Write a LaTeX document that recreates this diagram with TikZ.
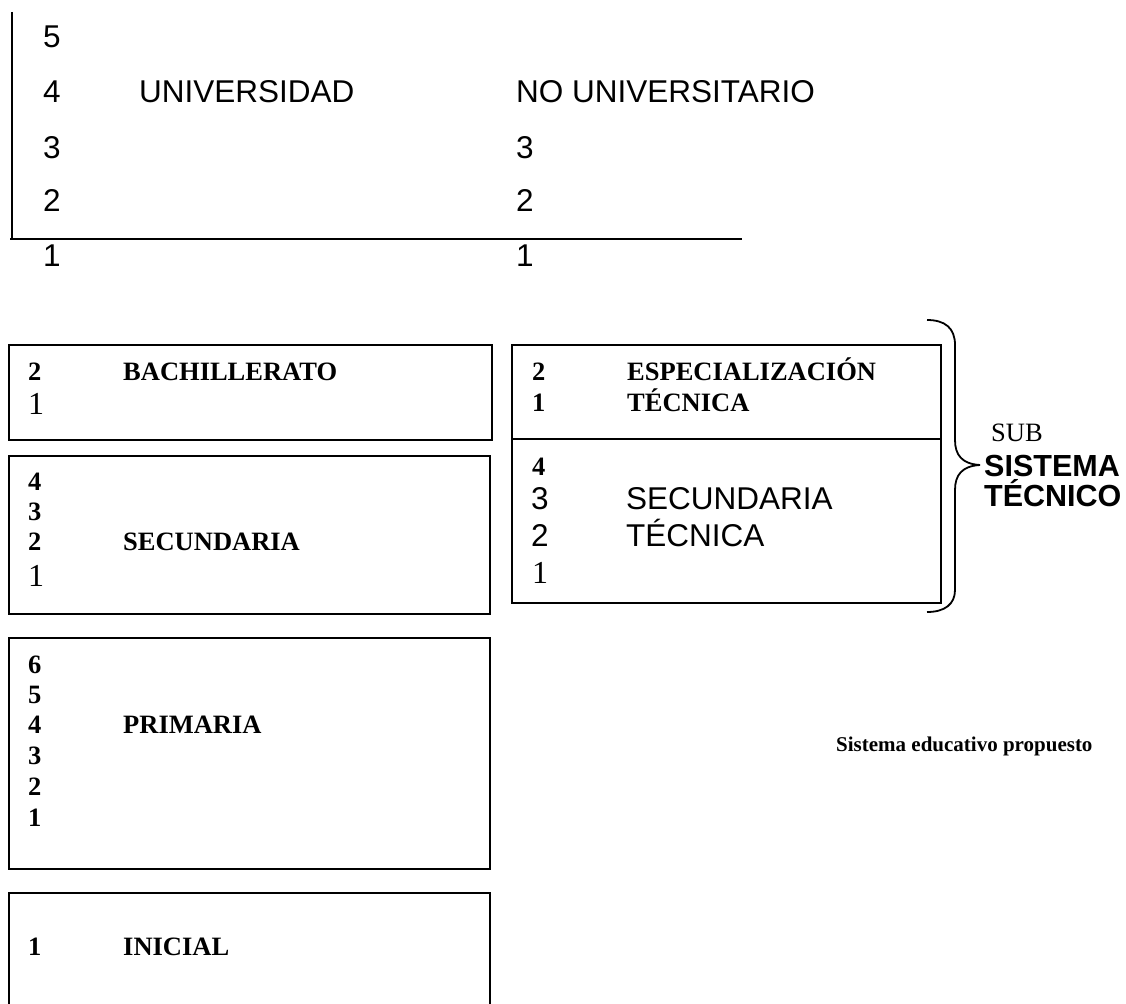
\documentclass[tikz,border=0pt]{standalone}
\usepackage{fontspec}
\setmainfont{Liberation Serif}
\newfontfamily\arialf{Liberation Sans}
\begin{document}
\begin{tikzpicture}[x=1pt,y=-1pt,
  tb/.style={anchor=west, inner sep=0pt, font=\fontsize{26.5}{30}\selectfont\bfseries, text height=17.9pt, text depth=0pt},
  tr/.style={anchor=west, inner sep=0pt, font=\fontsize{32}{36}\selectfont, text height=21.6pt, text depth=0pt},
  trs/.style={anchor=west, inner sep=0pt, font=\fontsize{26.5}{30}\selectfont, text height=17.9pt, text depth=0pt},
  ar/.style={anchor=west, inner sep=0pt, font=\arialf\fontsize{31.5}{35}\selectfont, text height=22.5pt, text depth=0pt},
  ab/.style={anchor=west, inner sep=0pt, font=\arialf\bfseries\fontsize{30.5}{34}\selectfont, text height=21.8pt, text depth=0pt},
  capt/.style={anchor=west, inner sep=0pt, font=\fontsize{21}{25}\selectfont\bfseries, text height=14.2pt, text depth=0pt},
  box/.style={draw, line width=1.8pt, anchor=north west, inner sep=0pt},
  rule/.style={line width=1.8pt},
]
\useasboundingbox (0,0) rectangle (1126,1003);
\clip (0,0) rectangle (1126,1003);

% ---------- top axes ----------
\coordinate (vtop) at (12,12);
\coordinate (vbot) at (12,239);
\coordinate (hleft) at (10,239);
\coordinate (hright) at (742,239);
\draw[rule] (vtop) -- (vbot);
\draw[rule] (hleft) -- (hright);

\node[ar] (u5) at (43,36) {5};
\node[ar] (u4) at (43,91) {4};
\node[ar] (u3) at (43,147) {3};
\node[ar] (u2) at (43,200) {2};
\node[ar] (u1) at (43,255) {1};
\node[ar] (univ) at (139,91) {UNIVERSIDAD};
\node[ar] (nouniv) at (516,91) {NO UNIVERSITARIO};
\node[ar] (n3) at (516,147) {3};
\node[ar] (n2) at (516,200) {2};
\node[ar] (n1) at (516,255) {1};

% ---------- left boxes ----------
\node[box, minimum width=483pt, minimum height=95pt] (bach) at (8,344) {};
\node[tb] (b2) at (28,372) {2};
\node[tb] (bachl) at (123,372) {BACHILLERATO};
\node[tr] (b1) at (28,404) {1};

\node[box, minimum width=481pt, minimum height=158pt] (sec) at (8,455) {};
\node[tb] (s4) at (28,482) {4};
\node[tb] (s3) at (28,512) {3};
\node[tb] (s2) at (28,542) {2};
\node[tb] (secl) at (123,542) {SECUNDARIA};
\node[tr] (s1) at (28,576) {1};

\node[box, minimum width=481pt, minimum height=231pt] (prim) at (8,637) {};
\node[tb] (p6) at (28,665) {6};
\node[tb] (p5) at (28,695) {5};
\node[tb] (p4) at (28,725) {4};
\node[tb] (p3) at (28,756) {3};
\node[tb] (p2) at (28,787) {2};
\node[tb] (p1) at (28,818) {1};
\node[tb] (priml) at (123,725) {PRIMARIA};

\node[box, minimum width=481pt, minimum height=150pt] (ini) at (8,892) {};
\node[tb] (i1) at (28,947) {1};
\node[tb] (inil) at (123,947) {INICIAL};

% ---------- right box ----------
\node[box, minimum width=429pt, minimum height=94pt] (esp) at (511,344) {};
\node[box, minimum width=429pt, minimum height=164pt] (sect) at (511,438) {};
\node[tb] (e2) at (532,372) {2};
\node[tb] (espl) at (627,372) {ESPECIALIZACIÓN};
\node[tb] (e1) at (532,403) {1};
\node[tb] (tecl) at (627,403) {TÉCNICA};
\node[tb] (t4) at (532,467) {4};
\node[ar] (t3) at (531,498) {3};
\node[ar] (secul) at (626,498) {SECUNDARIA};
\node[ar] (t2) at (531,535) {2};
\node[ar] (tecnl) at (626,535) {TÉCNICA};
\node[tr] (t1) at (532,573) {1};

% ---------- brace ----------
\coordinate (brtop) at (927,320);
\coordinate (brtip) at (980,465);
\coordinate (brbot) at (927,612);
\draw[rule] (brtop) .. controls (945,320) and (955,328) .. (955,345)
  -- (955,440) .. controls (955,455) and (962,464) .. (brtip)
  .. controls (962,466) and (955,475) .. (955,490)
  -- (955,590) .. controls (955,604) and (945,612) .. (brbot);

\node[trs] (sub) at (991,433) {SUB};
\node[ab] (sist) at (984,466) {SISTEMA};
\node[ab] (tecn) at (984,496) {TÉCNICO};

% ---------- caption ----------
\node[capt] (caption) at (836,744) {Sistema educativo propuesto};
\end{tikzpicture}
\end{document}
